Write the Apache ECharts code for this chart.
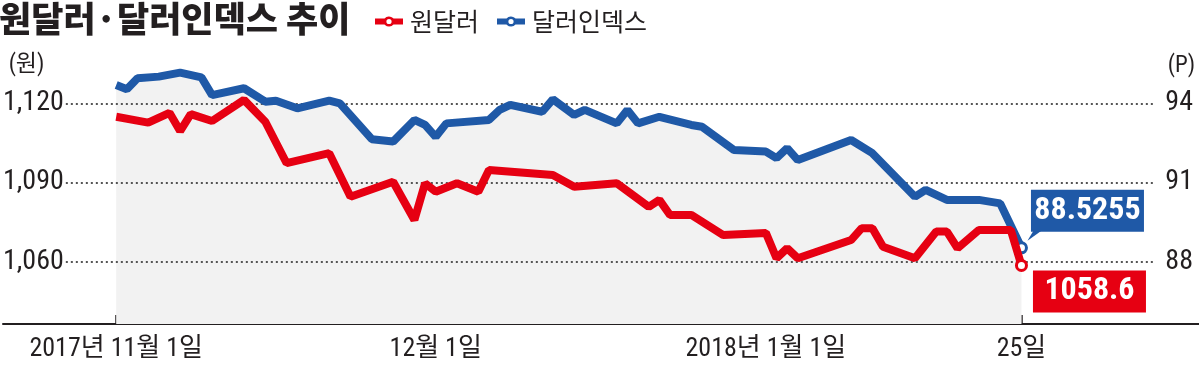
<!DOCTYPE html>
<html><head><meta charset="utf-8">
<script src="https://cdn.jsdelivr.net/npm/echarts@6/dist/echarts.min.js"></script>
<style>html,body{margin:0;padding:0;background:#fff}#c{width:1199px;height:373px}</style>
</head><body><div id="c"></div>
<script>
// ---------- data ----------
const titleText = '원달러·달러인덱스 추이';
const seriesNames = ['원달러', '달러인덱스'];
const krwUnit = '(원)';
const dxyUnit = '(P)';
const xTickDates = ['2017-11-01', '2017-12-01', '2018-01-01', '2018-01-25'];
const xTickLabels = ['2017년 11월 1일', '12월 1일', '2018년 1월 1일', '25일'];
const krwTicks = [1060, 1090, 1120];
const dxyTicks = [88, 91, 94];

const krwDates = ['2017-11-01','2017-11-04','2017-11-06','2017-11-07','2017-11-08','2017-11-10','2017-11-13','2017-11-15','2017-11-17','2017-11-21','2017-11-23','2017-11-27','2017-11-29','2017-11-30','2017-12-01','2017-12-03','2017-12-05','2017-12-06','2017-12-12','2017-12-14','2017-12-18','2017-12-21','2017-12-22','2017-12-23','2017-12-25','2017-12-28','2018-01-01','2018-01-02','2018-01-03','2018-01-04','2018-01-09','2018-01-10','2018-01-11','2018-01-12','2018-01-15','2018-01-17','2018-01-18','2018-01-19','2018-01-21','2018-01-24','2018-01-25'];
const krwValues = [1114.9,1112.7,1116.4,1109.5,1115.9,1113.3,1121.3,1113.0,1097.3,1101.1,1084.6,1090.3,1075.8,1089.7,1086.5,1089.7,1086.5,1094.7,1092.8,1088.4,1089.7,1080.8,1083.4,1077.7,1077.7,1070.1,1070.9,1061.3,1065.1,1061.3,1068.2,1072.7,1072.7,1065.7,1061.3,1071.4,1071.4,1065.1,1072.0,1072.0,1058.6];

const dxyDates = ['2017-11-01','2017-11-02','2017-11-03','2017-11-05','2017-11-07','2017-11-09','2017-11-10','2017-11-13','2017-11-15','2017-11-16','2017-11-18','2017-11-21','2017-11-22','2017-11-25','2017-11-27','2017-11-29','2017-11-30','2017-12-01','2017-12-02','2017-12-06','2017-12-07','2017-12-08','2017-12-11','2017-12-12','2017-12-14','2017-12-15','2017-12-18','2017-12-19','2017-12-20','2017-12-22','2017-12-25','2017-12-26','2017-12-29','2018-01-01','2018-01-02','2018-01-03','2018-01-04','2018-01-09','2018-01-11','2018-01-15','2018-01-16','2018-01-18','2018-01-21','2018-01-23','2018-01-25'];
const dxyValues = [94.69,94.53,94.95,95.01,95.16,94.98,94.31,94.57,94.06,94.10,93.81,94.10,94.00,92.64,92.55,93.37,93.18,92.73,93.24,93.37,93.75,93.94,93.68,94.15,93.56,93.75,93.24,93.75,93.24,93.49,93.18,93.11,92.23,92.17,91.92,92.30,91.85,92.61,92.11,90.46,90.72,90.34,90.34,90.21,88.5255];

// ---------- helpers / styling ----------
const RED = '#e60012', BLUE = '#1f59a7', INK = '#231f20';
const NUM_FONT = '"Roboto Condensed", "Noto Sans CJK KR", sans-serif';
const KR_FONT = '"Noto Sans CJK KR", sans-serif';
const DAY = 86400000;
const ts = s => { const p = s.split('-').map(Number); return new Date(p[0], p[1] - 1, p[2]).getTime(); };
const tickTs = xTickDates.map(ts);
const first = tickTs[0], last = tickTs[tickTs.length - 1];
const xMin = first - 10.63 * DAY, xMax = last + 16.67 * DAY;
const gridStart = first - 4.73 * DAY, gridEnd = last + 12.55 * DAY;

function buildData(dates, values, color, labelOffset) {
  return dates.map((d, i) => {
    const item = { value: [ts(d), values[i]] };
    if (i === dates.length - 1) {
      item.symbol = 'circle';
      item.symbolSize = 10;
      item.itemStyle = { color: '#fff', borderColor: color, borderWidth: 3 };
      item.label = {
        show: true, position: 'inside', offset: labelOffset,
        formatter: p => String(p.value[1]),
        backgroundColor: color, color: '#fff',
        fontFamily: NUM_FONT, fontWeight: 'bold', fontSize: 32,
        width: 113, height: 42, lineHeight: 42, align: 'center', verticalAlign: 'middle'
      };
    }
    return item;
  });
}

const iconPath = 'path://M0 3 L9.53 3 A6 6 0 0 1 18.47 3 L28 3 L28 9 L18.47 9 A6 6 0 0 1 9.53 9 L0 9 Z M16.6 6 A2.6 2.6 0 1 0 11.4 6 A2.6 2.6 0 1 0 16.6 6 Z';

const chart = echarts.init(document.getElementById('c'), null, { renderer: 'canvas' });
chart.setOption({
  animation: false,
  backgroundColor: '#fff',
  title: {
    text: titleText, left: -1, top: 1, padding: 0,
    textStyle: { fontSize: 35, fontWeight: 900, fontFamily: KR_FONT, color: INK }
  },
  legend: {
    data: seriesNames, left: 375, top: 9, padding: 0, itemGap: 18,
    itemWidth: 28, itemHeight: 12, icon: iconPath, selectedMode: false,
    textStyle: { fontSize: 25, fontFamily: KR_FONT, color: INK, padding: [0, 0, 0, 2] }
  },
  graphic: [
    { type: 'text', x: 26.5, y: 65.5, style: { text: krwUnit, fontSize: 23, fontFamily: NUM_FONT, fill: INK, align: 'center', verticalAlign: 'middle' } },
    { type: 'text', x: 1181.5, y: 66, style: { text: dxyUnit, fontSize: 23, fontFamily: NUM_FONT, fill: INK, align: 'center', verticalAlign: 'middle' } }
  ],
  grid: { left: 0, right: 0, top: 50.5, bottom: 49 },
  xAxis: {
    type: 'value', min: xMin, max: xMax,
    axisLine: { show: true, lineStyle: { color: INK, width: 2 } },
    axisTick: { show: true, inside: true, length: 9, customValues: tickTs, lineStyle: { color: INK, width: 1.5 } },
    axisLabel: {
      customValues: tickTs, margin: 12, fontSize: 26, fontFamily: NUM_FONT, color: INK,
      formatter: v => { const i = tickTs.indexOf(v); return i >= 0 ? xTickLabels[i] : ''; }
    },
    splitLine: { show: false }
  },
  yAxis: [
    {
      type: 'value', position: 'left', min: 1036.4, max: 1140,
      axisLine: { show: false }, axisTick: { show: false }, splitLine: { show: false },
      axisLabel: { inside: true, margin: 0, customValues: krwTicks, fontSize: 28, fontFamily: NUM_FONT, color: INK,
        formatter: v => v.toLocaleString('en-US') }
    },
    {
      type: 'value', position: 'right', min: 85.64, max: 96,
      axisLine: { show: false }, axisTick: { show: false }, splitLine: { show: false },
      axisLabel: { inside: true, margin: 6, customValues: dxyTicks, fontSize: 28, fontFamily: NUM_FONT, color: INK }
    }
  ],
  series: [
    {
      name: 'area', type: 'line', yAxisIndex: 1, z: 1, silent: true,
      data: dxyDates.map((d, i) => [ts(d), dxyValues[i]]),
      symbol: 'none', lineStyle: { width: 0 }, areaStyle: { color: '#f2f2f2', opacity: 1 },
      markLine: {
        silent: true, symbol: 'none', z: 2, label: { show: false },
        lineStyle: { type: [2, 3], color: '#555', width: 2 },
        data: dxyTicks.map(v => [{ coord: [gridStart, v] }, { coord: [gridEnd, v] }])
      }
    },
    {
      name: seriesNames[1], type: 'line', yAxisIndex: 1, z: 3,
      data: buildData(dxyDates, dxyValues, BLUE, [66, -37]),
      symbol: 'none', showSymbol: true, showAllSymbol: true,
      lineStyle: { color: BLUE, width: 8 }, itemStyle: { color: BLUE },
      markPoint: {
        silent: true, z: 3, label: { show: false },
        data: [{ coord: [ts(dxyDates[dxyDates.length - 1]), dxyValues[dxyValues.length - 1]],
          symbol: 'path://M6 0 L14 0 L0 10 Z', symbolSize: [14, 10], symbolOffset: [13, -12], itemStyle: { color: BLUE } }]
      }
    },
    {
      name: seriesNames[0], type: 'line', yAxisIndex: 0, z: 4,
      data: buildData(krwDates, krwValues, RED, [68, 26]),
      symbol: 'none', showSymbol: true, showAllSymbol: true,
      lineStyle: { color: RED, width: 8 }, itemStyle: { color: RED }
    }
  ]
});
</script>
</body></html>
